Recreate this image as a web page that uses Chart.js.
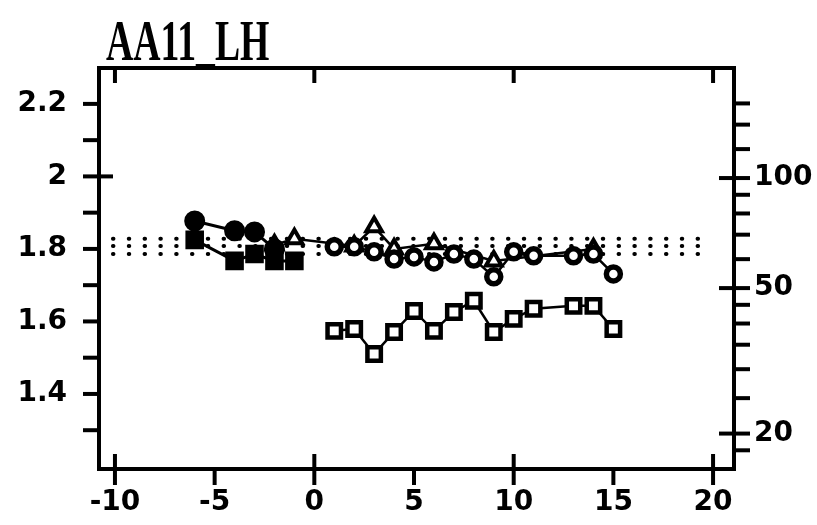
<!DOCTYPE html>
<html>
<head>
<meta charset="utf-8">
<script src="https://cdn.jsdelivr.net/npm/chart.js@4.4.1/dist/chart.umd.min.js"></script>
<style>
  body { margin: 0; background: #fff; }
  #wrap { width: 817px; height: 525px; }
</style>
</head>
<body>
<div id="wrap"><canvas id="plot"></canvas></div>
<script>
// values (left axis units)
const titleText = 'AA11_LH'

const preX = [-6, -4, -3, -2]
const preCircle = [1.877, 1.850, 1.847, 1.800]
const preSqX = [-6, -4, -3, -2, -1]
const preSquare = [1.825, 1.767, 1.786, 1.767, 1.767]

const postX = [1, 2, 3, 4, 5, 6, 7, 8, 9, 10, 11, 13, 14, 15]
const postCircle = [1.806, 1.806, 1.792, 1.772, 1.778, 1.764, 1.786, 1.772, 1.723, 1.792, 1.781, 1.781, 1.786, 1.731]
const postSquare = [1.574, 1.579, 1.510, 1.571, 1.629, 1.574, 1.626, 1.657, 1.571, 1.607, 1.635, 1.643, 1.643, 1.579]

const triX = [-2, -1, 2, 3, 4, 6, 9, 14]
const triVal = [1.811, 1.828, 1.808, 1.861, 1.800, 1.814, 1.767, 1.800]

const refLevels = [1.828, 1.808, 1.786]
const refSpan = [-10.1, 20]

// axes
const xRange = [-10.8, 21.05]
const xLabels = [-10, -5, 0, 5, 10, 15, 20]
const xCross = [-10, 0, 10, 20]
const leftRange = [1.193, 2.299]
const leftLabels = [1.4, 1.6, 1.8, 2, 2.2]
const leftMinor = [1.3, 1.4, 1.5, 1.6, 1.7, 1.8, 1.9, 2.0, 2.1, 2.2]
const leftCross = [2]
const rightRange = [16, 200]
const rightLabels = [20, 50, 100]
const rightMinor = [18, 25, 30, 35, 40, 45, 60, 70, 80, 90, 120, 140, 160]

function pts(xs, ys) {
    let out = new Array()
    for (let i = 0; i < xs.length; i++) out.push({x: xs[i], y: ys[i]})
    return out
}

const tickFont = {family: 'DejaVu Sans', weight: 'bold', size: 28}

// frame, tick marks and the title
const framePlugin = {
    id: 'framePlugin',
    afterDraw(chart) {
        const ctx = chart.ctx
        const a = chart.chartArea
        const sx = chart.scales.x, sl = chart.scales.y, sr = chart.scales.y2
        function seg(x1, y1, x2, y2) {
            ctx.beginPath(); ctx.moveTo(x1, y1); ctx.lineTo(x2, y2); ctx.stroke()
        }
        ctx.save()
        ctx.strokeStyle = '#000'
        ctx.lineWidth = 4
        ctx.strokeRect(a.left, a.top, a.right - a.left, a.bottom - a.top)
        xLabels.forEach(v => {
            const p = sx.getPixelForValue(v)
            seg(p, a.bottom, p, a.bottom + 16)
        })
        xCross.forEach(v => {
            const p = sx.getPixelForValue(v)
            seg(p, a.bottom - 15, p, a.bottom)
            seg(p, a.top, p, a.top + 15)
        })
        leftMinor.forEach(v => {
            const p = sl.getPixelForValue(v)
            seg(a.left - 16, p, a.left, p)
        })
        leftCross.forEach(v => {
            const p = sl.getPixelForValue(v)
            seg(a.left, p, a.left + 14, p)
        })
        rightMinor.concat(rightLabels).forEach(v => {
            const p = sr.getPixelForValue(v)
            seg(a.right, p, a.right + 16, p)
        })
        rightLabels.forEach(v => {
            const p = sr.getPixelForValue(v)
            seg(a.right - 15, p, a.right, p)
        })
        // title, narrow serif like the original plotter font
        ctx.fillStyle = '#000'
        ctx.font = 'bold 58px "Liberation Serif"'
        ctx.textBaseline = 'alphabetic'
        ctx.translate(106, 60)
        ctx.scale(0.65, 1)
        ctx.fillText(titleText, 0, 0)
        ctx.restore()
    }
}

let datasets = new Array()
datasets.push({
    data: pts(preX, preCircle), showLine: true, borderColor: '#000', borderWidth: 3,
    pointStyle: 'circle', pointRadius: 9, pointBackgroundColor: '#000', pointBorderColor: '#000'
})
datasets.push({
    data: pts(preSqX, preSquare), showLine: true, borderColor: '#000', borderWidth: 3,
    pointStyle: 'rect', pointRadius: 11, pointBackgroundColor: '#000', pointBorderColor: '#000'
})
datasets.push({
    data: pts(postX, postCircle), showLine: true, borderColor: '#000', borderWidth: 2.5,
    pointStyle: 'circle', pointRadius: 7, pointBorderWidth: 5.5,
    pointBackgroundColor: '#fff', pointBorderColor: '#000'
})
datasets.push({
    data: pts(postX, postSquare), showLine: true, borderColor: '#000', borderWidth: 2.5,
    pointStyle: 'rect', pointRadius: 9.5, pointBorderWidth: 4.5,
    pointBackgroundColor: '#fff', pointBorderColor: '#000'
})
datasets.push({
    data: pts(triX, triVal), showLine: true, borderColor: '#000', borderWidth: 2.5,
    pointStyle: 'triangle', pointRadius: 9, pointBorderWidth: 4,
    pointBackgroundColor: '#fff', pointBorderColor: '#000'
})
// dotted reference levels
for (let i = 0; i < refLevels.length; i++) {
    datasets.push({
        data: pts(refSpan, [refLevels[i], refLevels[i]]), showLine: true,
        borderColor: '#000', borderWidth: 4, borderDash: [0.5, 15.3], borderCapStyle: 'round',
        pointRadius: 0
    })
}

new Chart(document.getElementById('plot'), {
    type: 'scatter',
    data: {datasets: datasets},
    options: {
        responsive: true,
        maintainAspectRatio: false,
        animation: false,
        layout: {padding: {top: 68, left: 0, right: 0, bottom: 0}},
        plugins: {legend: {display: false}, tooltip: {enabled: false}, title: {display: false}},
        scales: {
            x: {
                type: 'linear', min: xRange[0], max: xRange[1],
                grid: {display: false}, border: {display: false},
                afterBuildTicks: s => { s.ticks = xLabels.map(v => ({value: v})) },
                afterFit: s => { s.height = 56 },
                ticks: {color: '#000', font: tickFont, padding: 9, maxRotation: 0, autoSkip: false,
                    callback: v => String(v)}
            },
            y: {
                type: 'linear', position: 'left', min: leftRange[0], max: leftRange[1],
                grid: {display: false}, border: {display: false},
                afterBuildTicks: s => { s.ticks = leftLabels.map(v => ({value: v})) },
                afterFit: s => { s.width = 99 },
                ticks: {color: '#000', font: tickFont, padding: 24, autoSkip: false,
                    callback: v => (v === 2 ? '2' : v.toFixed(1))}
            },
            y2: {
                type: 'logarithmic', position: 'right', min: rightRange[0], max: rightRange[1],
                grid: {display: false}, border: {display: false},
                afterBuildTicks: s => { s.ticks = rightLabels.map(v => ({value: v})) },
                afterFit: s => { s.width = 83 },
                ticks: {color: '#000', font: tickFont, padding: 12, autoSkip: false,
                    callback: v => String(v)}
            }
        }
    },
    plugins: [framePlugin]
})
</script>
</body>
</html>
